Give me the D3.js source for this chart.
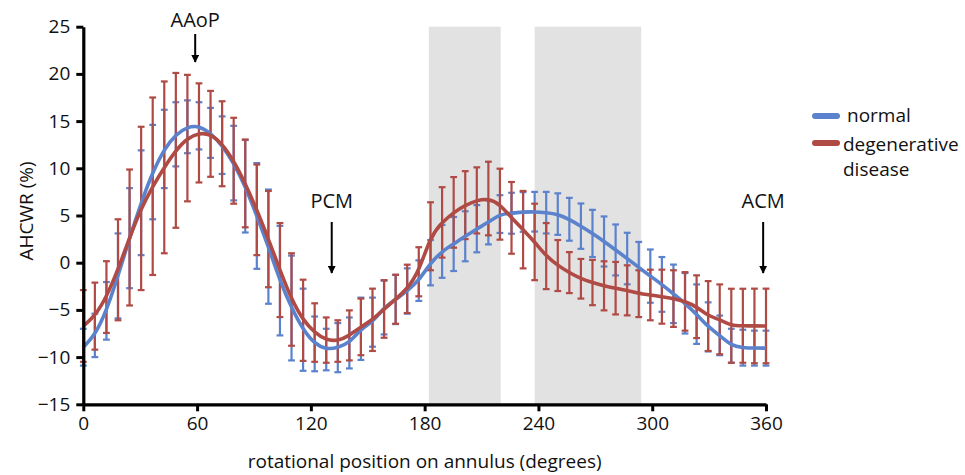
<!DOCTYPE html>
<html>
<head>
<meta charset="utf-8">
<script src="https://cdn.jsdelivr.net/npm/d3@7"></script>
<style>
  body { margin: 0; background: #fff; }
  svg text { font-family: "Open Sans", "Noto Sans", sans-serif; fill: #111; }
</style>
</head>
<body>
<svg id="chart" width="965" height="475"></svg>
<script>
const angles = [0, 6.1, 12.2, 18.3, 24.4, 30.5, 36.6, 42.7, 48.8, 54.9,
  61.0, 67.1, 73.2, 79.3, 85.4, 91.5, 97.6, 103.7, 109.8, 115.9,
  122.0, 128.1, 134.2, 140.3, 146.4, 152.5, 158.6, 164.7, 170.8, 176.9,
  183.1, 189.2, 195.3, 201.4, 207.5, 213.6, 219.7, 225.8, 231.9, 238.0,
  244.1, 250.2, 256.3, 262.4, 268.5, 274.6, 280.7, 286.8, 292.9, 299.0,
  305.1, 311.2, 317.3, 323.4, 329.5, 335.6, 341.7, 347.8, 353.9, 360];

const normalMean = [-8.95, -7.7, -5.1, -1.4, 2.6, 6.35, 9.6, 12.05, 13.6, 14.4,
  14.5, 13.75, 12.45, 10.55, 8.1, 4.95, 1.7, -1.9, -4.8, -7.1,
  -8.6, -9.2, -9.0, -8.5, -7.0, -6.3, -4.75, -3.9, -3.0, -1.9,
  0.0, 1.2, 1.98, 2.8, 3.6, 4.27, 5.15, 5.24, 5.37, 5.4,
  5.3, 5.15, 4.6, 3.87, 3.1, 2.25, 1.35, 0.44, -0.5, -1.42,
  -2.3, -3.3, -4.3, -5.45, -6.8, -7.7, -8.8, -9.0, -9.05, -9.05];
const normalErr = [1.95, 2.3, 3.05, 4.5, 5.3, 5.55, 5.0, 4.15, 3.4, 2.8,
  2.5, 2.65, 3.05, 3.95, 4.9, 5.6, 6.05, 5.8, 5.55, 4.35,
  2.9, 2.2, 2.6, 2.7, 3.3, 2.6, 2.85, 2.6, 2.4, 2.15,
  2.4, 2.8, 2.86, 2.65, 2.5, 2.33, 2.0, 2.17, 2.1, 2.1,
  2.2, 2.2, 2.27, 2.4, 2.5, 2.65, 2.7, 2.73, 2.7, 2.82,
  2.9, 3.1, 3.2, 3.15, 2.6, 2.1, 1.8, 1.9, 1.85, 1.85];

const diseaseMean = [-6.7, -5.66, -3.64, -0.75, 2.67, 5.75, 8.1, 10.1, 11.9, 13.2,
  13.75, 13.65, 12.6, 10.8, 8.4, 5.6, 2.5, -0.78, -3.9, -6.1,
  -7.4, -8.2, -8.3, -7.7, -6.8, -6.05, -4.9, -3.87, -2.77, -0.96,
  2.8, 4.27, 5.33, 6.1, 6.6, 6.8, 6.2, 4.75, 3.5, 2.2,
  0.7, -0.3, -1.05, -1.7, -2.1, -2.45, -2.7, -2.93, -3.28, -3.42,
  -3.6, -3.8, -4.1, -4.66, -5.65, -6.0, -6.68, -6.68, -6.7, -6.7];
const diseaseErr = [3.8, 3.55, 3.8, 5.35, 7.2, 8.65, 9.4, 9.1, 8.2, 6.7,
  5.25, 4.55, 4.5, 4.55, 4.65, 4.8, 5.1, 4.98, 4.9, 4.3,
  3.1, 2.4, 2.2, 2.65, 3.0, 3.3, 3.05, 2.6, 2.56, 2.6,
  3.6, 3.73, 3.74, 3.6, 3.5, 3.9, 3.76, 3.8, 4.1, 4.05,
  3.5, 2.7, 2.17, 2.1, 2.4, 2.6, 2.78, 2.65, 2.48, 2.68,
  2.86, 3.0, 3.1, 3.32, 3.7, 3.7, 3.92, 3.92, 3.95, 3.95];

const xTicks = [0, 60, 120, 180, 240, 300, 360];
const yTicks = [-15, -10, -5, 0, 5, 10, 15, 20, 25];
const bands = [[182.2, 220.1], [238.0, 294.2]];
const annotations = [
  { label: "AAoP", angle: 59, textY: 27, y0: 34, y1: 62 },
  { label: "PCM", angle: 131, textY: 208, y0: 222, y1: 273 },
  { label: "ACM", angle: 358.5, textY: 208, y0: 222, y1: 273 },
];
const seriesInfo = [
  { label: "normal", mean: normalMean, err: normalErr, color: "#5b82cc" },
  { label: "degenerative disease", mean: diseaseMean, err: diseaseErr, color: "#b04a44" },
];

const svg = d3.select("#chart");
const x = d3.scaleLinear().domain([0, 360]).range([83.3, 766]);
const y = d3.scaleLinear().domain([-15, 25]).range([404.3, 26.7]);

// grey shaded regions
svg.selectAll("rect.band")
  .data(bands)
  .enter()
  .append("rect")
  .attr("class", "band")
  .attr("x", (d) => x(d[0]))
  .attr("width", (d) => x(d[1]) - x(d[0]))
  .attr("y", y(25))
  .attr("height", y(-15) - y(25))
  .attr("fill", "#e2e2e2");

// error bars, blue first so red covers the stems
seriesInfo.forEach((s) => {
  const g = svg.append("g");
  const rows = angles.map((a, i) => ({ a, lo: s.mean[i] - s.err[i], hi: s.mean[i] + s.err[i] }));
  g.selectAll("line.stem")
    .data(rows)
    .enter()
    .append("line")
    .attr("x1", (d) => x(d.a))
    .attr("x2", (d) => x(d.a))
    .attr("y1", (d) => y(d.lo))
    .attr("y2", (d) => y(d.hi))
    .attr("stroke", s.color)
    .attr("stroke-width", 2.2);
  ["lo", "hi"].forEach((k) => {
    g.selectAll("line.cap-" + k)
      .data(rows)
      .enter()
      .append("line")
      .attr("x1", (d) => x(d.a) - 3.4)
      .attr("x2", (d) => x(d.a) + 3.4)
      .attr("y1", (d) => y(d[k]))
      .attr("y2", (d) => y(d[k]))
      .attr("stroke", s.color)
      .attr("stroke-width", 2.2);
  });
});

// smoothed mean curves
const line = d3
  .line()
  .x((d) => x(d[0]))
  .y((d) => y(d[1]))
  .curve(d3.curveBasis);

seriesInfo.forEach((s) => {
  svg.append("path")
    .datum(angles.map((a, i) => [a, s.mean[i]]))
    .attr("d", line)
    .attr("fill", "none")
    .attr("stroke", s.color)
    .attr("stroke-width", 3.6);
});

// axes
const xAxis = svg.append("g")
  .attr("transform", `translate(0,${y(-15)})`)
  .call(d3.axisBottom(x).tickValues(xTicks).tickSize(7).tickSizeOuter(0).tickPadding(5));
const yAxis = svg.append("g")
  .attr("transform", `translate(${x(0)},0)`)
  .call(d3.axisLeft(y).tickValues(yTicks).tickSize(7).tickSizeOuter(0).tickPadding(6));

[xAxis, yAxis].forEach((ax) => {
  ax.select(".domain").attr("stroke", "#000").attr("stroke-width", 3.2);
  ax.selectAll(".tick line").attr("stroke", "#000").attr("stroke-width", 3);
  ax.selectAll(".tick text")
    .attr("font-size", 19)
    .attr("font-family", '"Open Sans", sans-serif')
    .attr("fill", "#111");
});

svg.append("text")
  .attr("x", x(180))
  .attr("y", 468)
  .attr("text-anchor", "middle")
  .attr("font-size", 19)
  .text("rotational position on annulus (degrees)");

svg.append("text")
  .attr("transform", "translate(33,211) rotate(-90)")
  .attr("text-anchor", "middle")
  .attr("font-size", 19)
  .text("AHCWR (%)");

// annotation arrows
svg.append("defs")
  .append("marker")
  .attr("id", "arrow")
  .attr("viewBox", "0 0 10 10")
  .attr("refX", 9)
  .attr("refY", 5)
  .attr("markerWidth", 4)
  .attr("markerHeight", 4)
  .attr("markerUnits", "strokeWidth")
  .attr("orient", "auto")
  .append("path")
  .attr("d", "M0,0 L10,5 L0,10 Z")
  .attr("fill", "#000");

annotations.forEach((a) => {
  svg.append("text")
    .attr("x", x(a.angle))
    .attr("y", a.textY)
    .attr("text-anchor", "middle")
    .attr("font-size", 20)
    .text(a.label);
  svg.append("line")
    .attr("x1", x(a.angle))
    .attr("x2", x(a.angle))
    .attr("y1", a.y0)
    .attr("y2", a.y1)
    .attr("stroke", "#000")
    .attr("stroke-width", 2)
    .attr("marker-end", "url(#arrow)");
});

// legend
const legend = svg.append("g").attr("transform", "translate(813,116)");
seriesInfo.forEach((s, i) => {
  legend.append("line")
    .attr("x1", 2)
    .attr("x2", 24)
    .attr("y1", i * 27)
    .attr("y2", i * 27)
    .attr("stroke", s.color)
    .attr("stroke-width", 6)
    .attr("stroke-linecap", "round");
});
legend.append("text").attr("x", 34).attr("y", 6).attr("font-size", 19).text("normal");
const lt = legend.append("text").attr("x", 30).attr("y", 35).attr("font-size", 19);
lt.append("tspan").attr("x", 30).text("degenerative");
lt.append("tspan").attr("x", 30).attr("dy", 25).text("disease");
</script>
</body>
</html>
